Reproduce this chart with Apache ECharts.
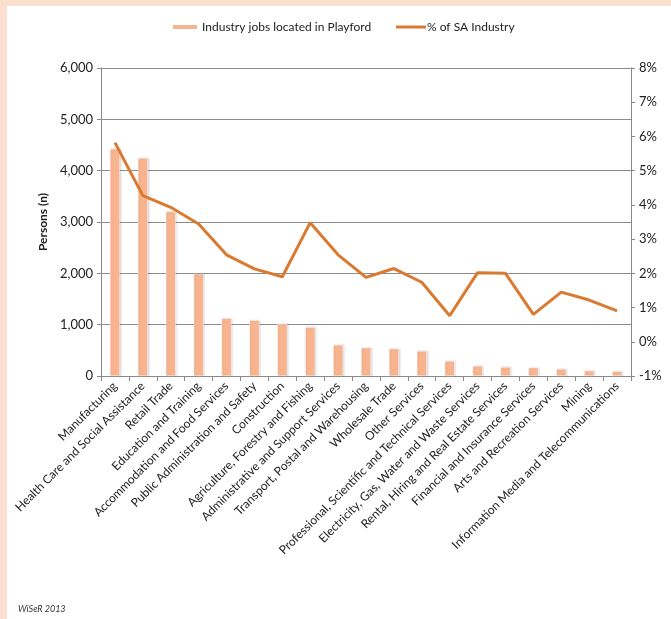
<!DOCTYPE html>
<html>
<head>
<meta charset="utf-8">
<script src="https://cdn.jsdelivr.net/npm/echarts@6/dist/echarts.min.js"></script>
<style>
html,body{margin:0;padding:0;background:#fff;}
#c{width:671px;height:619px;}
</style>
</head>
<body>
<div id="c"></div>
<script>
const categories = [
  'Manufacturing',
  'Health Care and Social Assistance',
  'Retail Trade',
  'Education and Training',
  'Accommodation and Food Services',
  'Public Administration and Safety',
  'Construction',
  'Agriculture, Forestry and Fishing',
  'Administrative and Support Services',
  'Transport, Postal and Warehousing',
  'Wholesale Trade',
  'Other Services',
  'Professional, Scientific and Technical Services',
  'Electricity, Gas, Water and Waste Services',
  'Rental, Hiring and Real Estate Services',
  'Financial and Insurance Services',
  'Arts and Recreation Services',
  'Mining',
  'Information Media and Telecommunications'
];
const jobsPlayford = [4425, 4245, 3205, 1990, 1125, 1085, 1012, 950, 605, 552, 533, 487, 292, 195, 175, 162, 136, 104, 91];
const pctSA = [5.82, 4.27, 3.93, 3.44, 2.54, 2.13, 1.90, 3.48, 2.54, 1.88, 2.14, 1.74, 0.76, 2.02, 2.00, 0.80, 1.45, 1.22, 0.90];
const leftTicks = {min: 0, max: 6000, interval: 1000};
const rightTicks = {min: -1, max: 8, interval: 1};

const FONT = 'Lato, "Open Sans", sans-serif';
const chart = echarts.init(document.getElementById('c'), null, {renderer: 'canvas'});
chart.setOption({
  animation: false,
  backgroundColor: '#ffffff',
  graphic: [
    {type: 'rect', shape: {x: 0, y: 0, width: 671, height: 6}, style: {fill: '#FCE0CF'}, silent: true},
    {type: 'rect', shape: {x: 0, y: 0, width: 7, height: 619}, style: {fill: '#FCE0CF'}, silent: true},
    {type: 'text', left: 18, top: 605, style: {text: 'WiSeR 2013', font: 'italic 9px ' + FONT, fill: '#333', shadowColor: 'rgba(0,0,0,0.35)', shadowBlur: 3, shadowOffsetY: 1}}
  ],
  legend: [
    {
      left: 171,
      top: 20,
      padding: 0,
      itemWidth: 26,
      itemHeight: 6,
      textStyle: {fontFamily: FONT, fontSize: 12, lineHeight: 14, color: '#222', padding: [0, 0, 0, -1]},
      data: [{name: 'Industry jobs located in Playford', icon: 'rect'}]
    },
    {
      left: 396,
      top: 20,
      padding: 0,
      itemWidth: 30,
      itemHeight: 3,
      textStyle: {fontFamily: FONT, fontSize: 12, lineHeight: 14, color: '#222', padding: [0, 0, 0, -4]},
      data: [{name: '% of SA Industry', icon: 'rect'}]
    }
  ],
  grid: {left: 101, right: 40, top: 68, bottom: 243, containLabel: false},
  xAxis: {
    type: 'category',
    data: categories,
    boundaryGap: true,
    axisLine: {lineStyle: {color: '#888', width: 1}},
    axisTick: {show: true, length: 5, lineStyle: {color: '#888'}},
    axisLabel: {rotate: 45, interval: 0, fontFamily: FONT, fontSize: 12, color: '#222', margin: 8}
  },
  yAxis: [
    {
      type: 'value',
      min: leftTicks.min, max: leftTicks.max, interval: leftTicks.interval,
      name: 'Persons (n)',
      nameLocation: 'middle',
      nameGap: 45,
      nameRotate: 90,
      nameTextStyle: {fontFamily: FONT, fontSize: 12, fontWeight: 'bold', color: '#222'},
      axisLine: {show: true, lineStyle: {color: '#888'}},
      axisTick: {show: true, length: 4, lineStyle: {color: '#888'}},
      axisLabel: {fontFamily: FONT, fontSize: 13, color: '#222', margin: 8,
        formatter: v => v.toLocaleString('en-US')},
      splitLine: {show: true, lineStyle: {color: '#8c8c8c', width: 1}}
    },
    {
      type: 'value',
      position: 'right',
      min: rightTicks.min, max: rightTicks.max, interval: rightTicks.interval,
      axisLine: {show: true, lineStyle: {color: '#888'}},
      axisTick: {show: true, length: 4, lineStyle: {color: '#888'}},
      axisLabel: {fontFamily: FONT, fontSize: 13, color: '#222', margin: 8, formatter: v => v + '%'},
      splitLine: {show: false}
    }
  ],
  series: [
    {
      name: 'Industry jobs located in Playford',
      type: 'bar',
      yAxisIndex: 0,
      data: jobsPlayford,
      barWidth: 10,
      itemStyle: {color: '#F8B48F', borderColor: '#ffffff', borderWidth: 0.5, shadowColor: 'rgba(0,0,0,0.15)', shadowBlur: 2, shadowOffsetX: 1}
    },
    {
      name: '% of SA Industry',
      type: 'line',
      yAxisIndex: 1,
      data: pctSA,
      symbol: 'none',
      showSymbol: false,
      lineStyle: {color: '#D97A30', width: 3},
      itemStyle: {color: '#D97A30'},
      z: 5
    }
  ]
});
</script>
</body>
</html>
